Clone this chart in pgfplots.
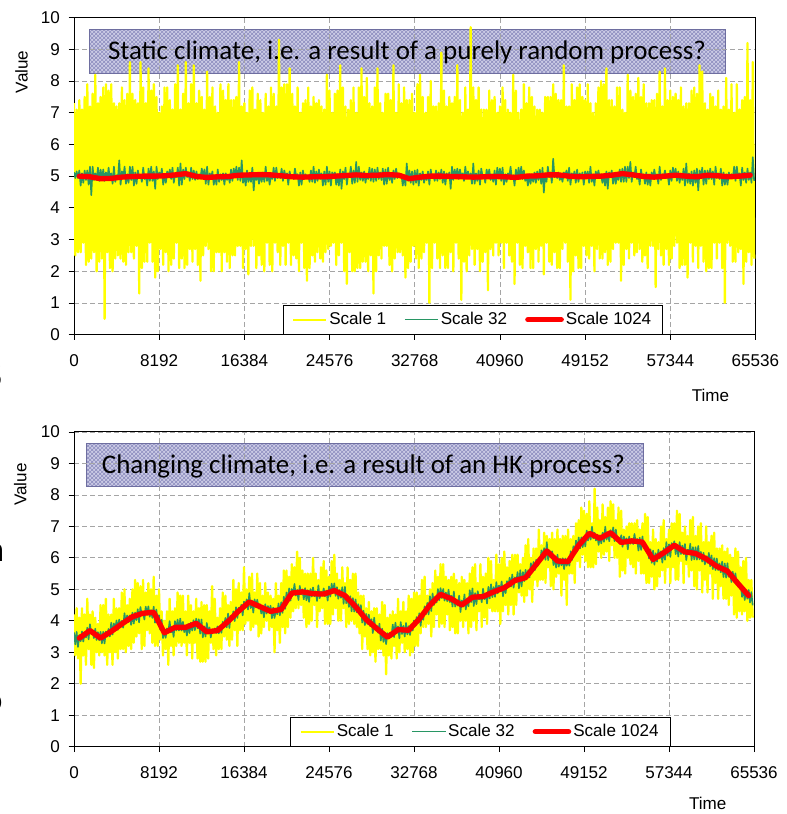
\documentclass[border=0pt]{standalone}
\usepackage{fontspec}
\setmainfont{Liberation Sans}
\newfontfamily\calibri{Carlito}
\usepackage{pgfplots}
\usepackage{pgfplotstable}
\pgfplotsset{compat=1.18}
\usetikzlibrary{patterns}

\definecolor{scaleone}{RGB}{255,255,0}
\definecolor{scalethirtytwo}{RGB}{40,150,100}
\definecolor{scalekilo}{RGB}{255,0,0}
\definecolor{boxfill}{RGB}{204,204,230}
\definecolor{boxhatch}{RGB}{140,140,190}
\definecolor{boxedge}{RGB}{110,110,160}
\definecolor{gridgray}{RGB}{165,165,165}

\newcommand\chartfont{\fontsize{12.8}{15}\selectfont}

% Series sampled every 128 time steps:
% static Scale 1, static Scale 32, changing Scale 1, changing Scale 32
\pgfplotstableread[header=false]{
7.3 5.12 4.2 3.63
2.5 4.94 2.9 3.25
7.1 5.15 4.4 3.65
2.6 4.94 2.8 3.17
7.4 5.18 4.1 3.55
2.6 4.70 2.0 3.35
7.1 5.09 4.4 3.66
2.9 4.79 2.9 3.34
7.5 5.18 4.2 3.62
2.2 4.88 2.6 3.47
7.9 5.18 4.7 3.78
2.3 4.73 3.1 3.41
7.2 5.30 4.2 3.89
2.4 4.40 2.6 3.58
7.6 5.30 4.3 3.68
2.6 4.88 2.5 3.45
8.2 5.09 4.1 3.75
2.0 4.88 3.0 3.39
7.3 5.27 3.9 3.64
2.3 4.85 2.9 3.38
7.5 5.21 4.5 3.65
2.4 4.91 3.0 3.28
7.8 5.21 4.5 3.65
0.5 4.85 2.9 3.28
7.9 5.12 4.7 3.66
2.6 4.88 2.6 3.50
7.7 5.27 4.2 3.74
2.1 4.88 3.0 3.50
7.9 5.09 4.2 3.94
2.0 4.76 2.6 3.56
7.3 5.30 4.7 3.92
2.4 4.82 3.0 3.70
7.2 5.03 4.4 4.01
2.5 4.91 2.8 3.71
7.3 5.50 4.4 4.04
2.4 4.73 3.1 3.82
7.8 5.15 4.9 4.00
2.3 4.94 3.1 3.78
7.4 5.30 5.0 4.24
2.2 4.76 3.0 3.91
7.6 5.06 4.5 4.17
2.6 4.79 3.2 3.96
8.6 5.30 4.7 4.17
2.6 4.88 3.1 3.87
7.6 5.30 5.0 4.26
2.4 4.70 3.3 3.91
7.4 5.12 5.3 4.26
2.8 4.76 3.5 4.02
7.3 5.18 5.2 4.37
1.3 4.94 3.6 3.95
8.6 5.03 5.1 4.44
2.1 4.82 3.1 4.18
7.8 5.27 5.3 4.29
2.3 4.91 3.2 4.04
7.3 5.03 4.9 4.45
2.3 4.70 3.7 4.20
8.4 5.24 5.2 4.46
2.9 4.85 3.6 4.13
7.7 5.30 5.0 4.34
2.3 4.85 3.3 4.09
7.9 5.15 5.4 4.45
1.8 4.60 3.2 3.94
7.5 5.30 4.8 4.36
2.0 4.91 3.2 3.95
7.0 5.12 5.0 4.18
2.7 4.97 3.4 3.71
7.2 5.24 4.3 4.03
2.2 4.73 2.9 3.45
7.8 5.06 4.0 3.70
2.6 4.79 3.1 3.46
7.8 5.15 4.3 3.76
2.0 4.97 2.6 3.63
7.4 5.21 4.7 3.99
2.2 4.91 3.2 3.63
7.1 5.27 4.3 3.80
2.4 4.79 2.9 3.49
7.9 5.09 4.4 3.99
2.9 4.97 3.2 3.69
8.5 5.27 4.9 4.04
2.1 4.70 3.3 3.69
7.1 5.40 4.8 4.07
2.4 4.73 3.2 3.69
7.6 5.21 4.8 3.97
2.1 4.91 3.3 3.64
8.6 5.27 4.3 3.84
2.2 4.97 2.9 3.53
7.3 5.12 4.8 3.90
2.7 4.85 3.3 3.61
7.9 5.27 4.5 3.94
2.3 4.91 2.8 3.69
8.5 5.18 4.3 4.02
2.7 4.88 3.3 3.70
7.3 5.15 4.7 4.07
2.2 4.91 2.8 3.76
7.7 5.06 4.4 4.05
1.7 4.94 2.7 3.59
7.5 5.24 4.6 4.04
2.5 4.97 2.7 3.47
7.1 5.21 4.5 3.82
2.8 4.76 2.7 3.50
8.3 5.30 4.5 3.93
2.7 4.73 2.8 3.61
7.5 5.09 4.3 3.79
2.0 4.94 3.3 3.47
7.8 5.15 5.1 3.72
2.0 4.73 3.1 3.63
7.2 5.03 4.7 3.76
2.6 4.73 2.9 3.61
7.0 5.21 4.1 3.82
2.6 4.82 3.1 3.60
7.9 5.06 4.4 3.81
2.0 4.88 3.1 3.62
7.7 5.09 4.9 3.97
2.6 4.73 3.5 3.82
7.4 5.09 4.8 4.09
2.3 4.88 3.4 3.79
7.9 5.03 4.5 4.23
2.1 4.79 3.2 3.77
7.4 5.21 4.6 4.16
2.5 4.85 3.4 4.05
7.4 5.24 5.3 4.30
2.5 4.97 3.7 3.99
7.5 5.30 5.0 4.43
2.8 4.88 3.2 4.09
8.6 5.27 5.2 4.41
2.8 4.85 3.7 4.27
7.2 5.50 4.9 4.51
2.1 4.79 3.7 4.17
7.3 5.03 5.7 4.61
2.7 4.70 3.9 4.41
7.0 5.18 5.0 4.68
1.9 4.82 4.0 4.36
7.7 5.03 5.4 4.88
2.8 4.82 3.7 4.40
7.8 5.27 5.5 4.64
2.8 4.55 3.8 4.26
7.1 5.09 4.9 4.68
2.1 4.88 3.9 4.43
7.6 5.06 5.5 4.67
2.5 4.76 3.5 4.39
7.4 5.09 5.2 4.53
2.2 4.82 3.6 4.23
7.0 5.12 4.8 4.46
2.0 4.82 3.8 4.11
7.6 5.30 5.2 4.53
2.9 4.85 4.0 4.23
7.2 5.03 4.9 4.47
2.2 4.73 3.7 4.27
7.8 5.06 4.8 4.48
2.0 4.91 3.8 4.08
7.6 5.27 4.7 4.42
2.9 4.85 3.0 4.09
7.2 5.27 5.2 4.38
2.6 4.94 3.7 4.21
9.3 5.06 4.8 4.55
2.2 4.94 3.3 4.17
7.8 5.24 5.2 4.59
2.8 4.85 3.8 4.25
7.9 5.18 5.6 4.77
2.2 4.97 3.6 4.38
7.9 5.09 5.6 4.90
2.9 4.73 3.8 4.61
8.4 5.15 5.4 5.03
2.2 4.94 4.1 4.64
7.6 5.03 5.8 5.01
2.5 4.91 4.3 4.84
7.2 5.24 5.7 5.17
2.4 4.97 4.4 4.80
7.8 5.06 6.2 4.98
2.0 4.70 4.4 4.66
7.0 5.12 6.0 5.11
2.9 4.73 4.5 4.84
7.3 5.18 5.6 5.00
2.1 4.91 4.1 4.68
7.4 5.06 5.5 5.04
1.7 4.94 3.8 4.65
7.8 5.03 5.5 4.97
2.1 4.82 3.9 4.60
7.2 5.18 5.5 5.01
2.5 4.82 4.0 4.77
7.5 5.30 6.0 5.06
2.3 4.79 4.5 4.78
7.3 5.15 5.5 4.94
2.6 4.85 3.8 4.63
7.4 5.21 5.3 5.13
2.4 4.91 4.3 4.72
7.2 5.09 5.7 4.93
2.3 4.70 4.4 4.80
7.1 5.15 5.9 5.03
2.6 4.73 3.9 4.78
8.2 5.30 5.6 4.96
2.7 4.82 3.9 4.64
7.7 5.15 5.4 5.09
2.8 4.70 3.9 4.77
7.0 5.12 5.9 5.18
2.9 4.97 4.2 4.90
7.6 5.12 6.1 5.19
2.2 4.73 4.4 4.79
7.7 5.06 5.5 5.07
2.5 4.70 4.0 4.70
8.5 5.21 5.3 4.98
2.9 4.60 4.0 4.73
7.8 5.15 5.7 5.07
2.0 4.91 4.4 4.54
7.2 5.27 5.2 5.08
1.6 4.73 3.8 4.56
7.1 5.06 5.7 4.81
2.6 4.97 3.9 4.44
7.4 5.30 5.3 4.78
2.0 4.76 4.0 4.30
7.8 5.18 5.5 4.72
2.0 4.79 3.9 4.29
7.0 5.45 5.5 4.68
2.1 4.82 3.8 4.27
7.8 5.30 4.9 4.53
2.1 4.88 3.6 4.22
8.4 5.12 4.8 4.50
2.3 4.85 3.1 3.94
7.5 5.15 4.8 4.32
2.3 4.79 3.5 3.86
8.1 5.06 4.4 4.22
2.0 4.91 3.1 3.90
7.3 5.27 4.6 4.20
2.5 4.85 2.9 3.83
7.2 5.24 4.3 4.05
1.3 4.82 3.0 3.61
7.8 5.21 4.4 4.10
2.0 4.85 2.7 3.71
8.4 5.27 4.4 3.85
2.5 4.91 3.1 3.62
7.3 5.12 4.2 3.91
2.4 4.88 3.1 3.37
7.0 5.24 4.6 3.75
2.8 4.73 2.9 3.33
7.6 5.21 4.5 3.63
2.8 4.76 2.3 3.26
7.6 5.27 4.1 3.61
2.2 4.88 2.9 3.46
7.4 5.06 4.2 3.62
2.0 4.79 2.8 3.49
8.5 5.18 4.3 3.88
2.4 4.91 3.2 3.48
7.0 5.24 4.2 3.94
2.6 4.94 2.8 3.61
7.9 5.09 4.7 3.82
2.6 4.97 3.0 3.44
7.3 5.06 4.3 3.96
2.5 4.70 3.3 3.58
7.8 5.03 4.6 3.84
1.8 4.70 3.0 3.50
7.4 5.40 4.3 3.93
2.1 4.85 3.1 3.57
7.4 5.18 4.8 3.83
2.3 4.79 2.9 3.55
7.6 5.15 4.7 3.89
2.8 4.73 3.0 3.69
7.0 5.18 4.9 4.01
2.4 4.79 3.2 3.85
7.9 5.21 4.9 4.12
2.1 4.70 3.2 3.94
8.2 5.09 4.8 4.24
2.4 4.88 3.6 3.84
7.5 5.15 5.3 4.27
2.6 4.79 3.8 4.03
7.0 5.03 5.4 4.46
2.9 4.88 3.8 4.21
7.5 5.15 4.8 4.57
1.0 4.73 3.9 4.20
8.0 5.21 5.0 4.78
2.1 4.94 3.5 4.31
7.2 5.03 5.2 4.87
2.9 4.85 3.8 4.50
7.2 5.18 5.6 4.77
2.4 4.85 4.2 4.58
7.3 5.12 5.4 5.01
2.1 4.91 3.8 4.65
8.9 5.21 5.8 5.04
2.5 4.79 3.9 4.72
7.7 5.15 5.8 5.01
2.1 4.73 3.8 4.64
7.2 5.09 5.4 4.90
2.1 4.94 4.2 4.62
7.5 5.12 5.3 4.99
2.6 4.60 3.7 4.59
7.3 5.30 5.4 4.80
2.0 4.88 3.8 4.45
7.5 5.21 5.5 4.93
2.9 4.97 3.6 4.45
8.5 5.24 5.3 4.65
2.4 4.91 3.6 4.48
7.4 5.21 5.2 4.80
1.1 4.97 4.0 4.28
7.0 5.09 5.4 4.65
2.3 4.85 3.8 4.45
7.8 5.30 5.3 4.84
2.0 4.94 4.0 4.36
7.1 5.15 5.2 4.71
2.5 4.94 3.6 4.46
9.7 5.09 5.5 4.97
2.7 4.76 3.8 4.59
7.8 5.40 5.7 5.03
2.2 4.76 4.0 4.47
7.4 5.09 5.8 4.88
2.7 4.85 3.7 4.53
7.8 5.18 5.2 4.94
2.0 4.73 4.3 4.68
7.1 5.24 5.8 4.82
2.3 4.97 3.8 4.59
7.1 5.03 5.4 5.02
2.6 4.79 4.1 4.69
7.1 5.21 5.5 4.86
1.4 4.97 3.9 4.55
7.7 5.21 6.0 5.08
2.7 4.88 4.4 4.71
7.4 5.06 5.9 5.16
2.5 4.82 4.3 4.75
7.5 5.18 5.3 5.07
2.9 4.73 4.3 4.76
7.0 5.27 6.1 5.23
2.5 4.94 4.3 4.87
7.2 5.24 5.8 5.12
2.9 4.85 3.9 4.95
7.8 5.27 6.0 5.25
2.1 4.73 4.3 4.78
7.4 5.06 6.2 5.13
2.9 4.82 4.5 4.88
7.1 5.09 5.7 5.26
2.5 4.97 4.2 5.09
7.0 5.30 5.9 5.37
2.3 4.91 4.5 5.09
8.2 5.03 6.1 5.47
1.6 4.70 4.2 5.05
7.7 5.21 6.1 5.38
2.9 4.91 4.5 5.24
7.0 5.27 6.1 5.55
2.2 4.91 4.9 5.03
7.1 5.30 5.8 5.61
2.1 4.91 4.8 5.09
7.9 5.18 6.0 5.55
2.8 4.85 4.6 5.26
7.3 5.03 6.4 5.62
2.6 4.70 4.8 5.37
7.8 5.06 6.6 5.61
2.1 4.76 5.0 5.38
7.5 5.06 6.0 5.83
2.1 4.82 4.6 5.53
7.2 5.12 6.3 5.87
2.7 4.79 5.3 5.61
7.1 5.15 6.3 5.94
2.3 4.88 5.1 5.74
7.1 5.21 6.9 5.98
2.8 4.76 5.3 5.87
7.0 5.27 6.4 6.24
1.9 4.48 5.3 6.01
7.5 5.09 6.8 6.31
2.9 4.82 5.2 5.94
7.5 5.30 6.7 6.50
2.3 4.97 5.7 5.93
7.5 5.12 6.6 6.24
2.2 4.79 5.1 6.02
7.9 5.55 6.8 6.21
2.6 4.97 5.0 5.77
7.6 5.06 6.6 6.03
2.1 4.94 5.4 5.69
7.4 5.12 6.9 6.10
2.1 4.88 5.5 5.72
7.4 5.03 6.6 5.97
2.7 4.82 4.8 5.76
8.5 5.12 6.7 5.99
2.9 4.97 5.3 5.64
7.2 5.18 6.7 5.98
2.3 4.85 4.5 5.75
7.2 5.27 6.9 5.93
1.1 4.73 5.5 5.75
7.9 5.09 6.6 6.21
2.0 4.97 5.5 5.93
7.4 5.15 6.7 6.37
2.5 4.79 5.2 6.16
7.8 5.21 7.1 6.55
2.1 4.82 5.9 6.21
7.9 5.09 7.2 6.65
2.1 4.94 5.7 6.30
7.5 5.12 7.6 6.65
2.8 4.73 6.1 6.34
7.4 5.15 7.5 6.64
2.5 4.94 5.9 6.36
7.9 5.15 7.4 6.87
2.4 4.79 5.7 6.55
7.3 5.30 7.8 6.83
2.8 4.82 5.7 6.58
7.0 5.06 7.1 6.99
2.0 4.70 5.7 6.62
7.3 5.15 8.2 6.80
2.7 4.94 5.8 6.55
7.8 5.18 7.6 6.74
2.4 4.94 6.2 6.41
8.0 5.06 7.2 6.72
2.4 4.79 6.0 6.46
7.9 5.03 7.7 6.80
2.6 4.70 6.1 6.51
8.4 5.15 7.3 6.99
2.2 4.60 6.2 6.58
7.4 5.12 7.6 6.81
2.3 4.97 5.9 6.53
7.4 5.18 7.8 6.88
2.7 4.76 6.4 6.66
7.2 5.09 7.7 6.97
2.9 4.76 6.0 6.53
7.8 5.03 7.2 6.90
2.9 4.88 6.0 6.53
7.8 5.21 7.6 6.65
1.7 4.82 5.4 6.45
7.1 5.24 7.5 6.72
2.2 4.82 5.6 6.35
7.0 5.30 6.9 6.68
2.7 4.82 5.5 6.46
8.2 5.30 7.0 6.62
2.4 4.94 6.0 6.27
7.7 5.45 7.1 6.68
2.9 4.82 5.8 6.45
7.5 5.12 7.1 6.59
2.5 4.97 5.7 6.44
7.6 5.30 7.1 6.76
2.6 4.91 5.5 6.47
8.1 5.06 7.2 6.60
2.7 4.73 5.9 6.23
7.5 5.21 6.9 6.64
2.3 4.94 5.5 6.25
7.9 5.06 7.1 6.68
2.5 4.76 5.5 6.33
7.3 5.12 7.4 6.44
2.1 4.73 5.2 6.21
7.3 5.06 7.3 6.28
2.8 4.70 5.2 5.98
7.4 5.12 6.5 6.27
2.8 4.91 5.4 5.84
7.4 5.21 6.9 6.23
1.5 4.94 5.0 5.78
7.6 5.06 6.6 6.15
2.7 4.76 5.1 5.88
8.3 5.30 6.5 6.26
2.5 4.88 5.4 5.98
7.2 5.06 7.0 6.21
2.2 4.97 5.6 5.85
8.4 5.18 7.2 6.31
2.7 4.94 5.2 5.94
7.4 5.06 6.6 6.50
2.2 4.73 5.7 6.07
7.7 5.18 6.9 6.43
2.4 4.85 5.2 6.03
7.5 5.27 7.1 6.47
2.8 4.97 5.7 6.32
7.6 5.24 7.1 6.53
2.9 4.85 5.3 6.12
7.4 5.15 7.5 6.43
2.1 4.79 5.3 6.04
7.8 5.09 7.4 6.50
2.2 4.88 5.9 6.12
7.2 5.24 6.8 6.39
2.2 4.70 5.2 6.12
7.3 5.40 7.0 6.44
1.8 4.79 5.8 5.93
7.3 5.09 6.7 6.26
2.9 4.76 5.4 6.12
7.7 5.15 7.2 6.45
2.3 4.70 5.6 5.93
7.8 5.18 7.3 6.34
2.8 4.79 5.1 5.95
7.6 5.24 6.7 6.34
2.1 4.55 5.0 5.94
8.5 5.18 7.0 6.38
2.8 4.94 5.6 5.95
8.3 5.27 7.1 6.19
2.3 4.73 4.9 5.88
7.3 5.18 6.5 6.16
2.0 4.76 5.3 5.79
7.1 5.18 7.0 6.05
2.1 4.91 4.9 5.84
7.6 5.24 6.5 6.16
2.1 4.91 5.5 5.73
7.5 5.15 6.7 6.08
2.9 4.73 4.7 5.64
7.2 5.30 6.8 5.99
2.4 4.94 5.2 5.61
7.7 5.09 6.3 5.98
2.9 4.91 4.7 5.61
7.1 5.24 6.3 5.82
2.1 4.70 5.1 5.54
7.2 5.12 6.4 5.88
1.0 4.73 4.7 5.39
8.1 5.06 6.2 5.82
2.9 4.73 4.7 5.37
7.1 5.12 6.3 5.83
2.8 4.97 4.5 5.40
7.9 5.06 6.1 5.56
2.3 4.94 4.8 5.23
7.0 5.30 6.0 5.56
2.3 4.85 4.2 5.23
7.9 5.30 6.3 5.51
2.6 4.94 4.1 5.15
7.1 5.09 6.2 5.28
2.7 4.70 4.3 5.08
7.4 5.27 5.7 5.17
1.6 4.88 4.2 4.76
7.5 5.12 5.9 5.04
2.3 4.79 4.3 4.66
9.2 5.24 6.0 4.97
2.6 4.88 4.0 4.70
7.4 5.12 5.3 4.98
2.2 4.79 4.1 4.58
8.6 5.60 5.3 4.91
2.4 4.85 4.1 4.49
}\scaledata

% Scale 1024 means, one per 1024 time steps: static, changing
\pgfplotstableread[header=false]{
5.00 3.45
4.98 3.69
4.92 3.45
4.93 3.66
4.97 3.90
4.99 4.13
5.00 4.24
5.00 4.27
5.01 3.62
5.04 3.79
5.08 3.79
4.99 3.92
4.96 3.65
4.98 3.69
4.99 3.98
5.03 4.31
5.04 4.60
5.05 4.45
5.04 4.30
5.01 4.36
4.98 4.88
4.97 4.92
4.98 4.86
4.98 4.85
5.00 4.96
5.02 4.80
5.04 4.45
5.02 4.04
5.03 3.75
5.05 3.48
5.03 3.72
4.92 3.70
4.97 4.06
5.00 4.50
5.00 4.84
4.99 4.70
4.98 4.50
4.97 4.75
4.98 4.77
4.99 4.92
4.98 5.05
4.96 5.28
5.00 5.37
5.01 5.79
5.04 6.22
5.04 5.90
5.00 5.88
4.98 6.40
4.99 6.78
5.00 6.62
5.03 6.80
5.08 6.49
5.04 6.54
4.99 6.50
4.97 5.95
5.00 6.16
5.03 6.40
5.00 6.19
4.98 6.14
5.03 5.97
5.01 5.73
4.98 5.58
5.00 5.18
5.03 4.80
}\kilodata

\pgfplotsset{
  climate/.style={
    scale only axis,
    xmin=0, xmax=65536, ymin=0, ymax=10,
    xtick={0,8192,16384,24576,32768,40960,49152,57344,65536},
    xticklabels={0,8192,16384,24576,32768,40960,49152,57344,65536},
    ytick={0,1,...,10},
    scaled x ticks=false,
    /pgf/number format/assume math mode=true,
    tick align=outside,
    tick pos=left,
    major tick length=4pt,
    tick style={black, line width=0.6pt},
    axis line style={black, line width=0.75pt},
    grid=major,
    major grid style={gridgray, dash pattern=on 3.5pt off 2.5pt, line width=0.6pt},
    ticklabel style={font=\chartfont},
    xticklabel style={yshift=-7.5pt},
    yticklabel style={xshift=-3pt},
    label style={font=\chartfont},
    xlabel={Time}, ylabel={Value},
    legend columns=3,
    legend image code/.code={\draw[#1] (0pt,0pt) -- (25pt,0pt);},
    legend style={anchor=south west, draw=black, line width=0.6pt, fill=white,
      font=\chartfont, inner xsep=7pt, inner ysep=4pt, nodes={inner sep=1.5pt},
      /tikz/every even column/.append style={column sep=12pt}},
  },
  scale one/.style={scaleone, line width=1.7pt, line join=round,
    legend image post style={line width=1.3pt}},
  scale thirtytwo/.style={scalethirtytwo, line width=1.2pt, line join=round,
    legend image post style={line width=0.9pt}},
  scale kilo/.style={scalekilo, line width=4pt, line join=round, line cap=round},
}

\begin{document}
\begin{tikzpicture}
% backing panels of the two captions
\fill[boxfill] (66.75pt,555pt) rectangle (543.75pt,588pt);
\fill[pattern=crosshatch, pattern color=boxhatch] (66.75pt,555pt) rectangle (543.75pt,588pt);
\draw[boxedge, line width=0.75pt] (66.75pt,555pt) rectangle (543.75pt,588pt);
\fill[boxfill] (64.5pt,245.25pt) rectangle (482.25pt,277.5pt);
\fill[pattern=crosshatch, pattern color=boxhatch] (64.5pt,245.25pt) rectangle (482.25pt,277.5pt);
\draw[boxedge, line width=0.75pt] (64.5pt,245.25pt) rectangle (482.25pt,277.5pt);

% static climate
\begin{axis}[climate, at={(55.5pt,359.5pt)}, anchor=south west,
  width=511.1pt, height=237.75pt,
  x label style={at={(axis description cs:0.934,-0.192)}, anchor=center},
  y label style={at={(axis description cs:-0.077,0.829)}, anchor=center},
  legend style={at={(axis description cs:0.306,0)}}]
\addplot[scale one] table[x expr=\coordindex*128, y index=0] {\scaledata};
\addlegendentry{Scale 1}
\addplot[scale thirtytwo] table[x expr=\coordindex*128, y index=1] {\scaledata};
\addlegendentry{Scale 32}
\addplot[scale kilo] table[x expr=512+\coordindex*1024, y index=0] {\kilodata};
\addlegendentry{Scale 1024}
\end{axis}

% changing climate
\begin{axis}[climate, at={(55.5pt,50.5pt)}, anchor=south west,
  width=510pt, height=236pt,
  x label style={at={(axis description cs:0.932,-0.181)}, anchor=center},
  y label style={at={(axis description cs:-0.079,0.833)}, anchor=center},
  legend style={at={(axis description cs:0.3176,0)}}]
\addplot[scale one] table[x expr=\coordindex*128, y index=2] {\scaledata};
\addlegendentry{Scale 1}
\addplot[scale thirtytwo] table[x expr=\coordindex*128, y index=3] {\scaledata};
\addlegendentry{Scale 32}
\addplot[scale kilo] table[x expr=512+\coordindex*1024, y index=1] {\kilodata};
\addlegendentry{Scale 1024}
\end{axis}

% captions
\node[anchor=base, inner sep=0pt, font=\calibri\fontsize{20.2}{24}\selectfont]
  at (305.25pt,565.5pt) {Static climate, i.e. a result of a purely random process?};
\node[anchor=base, inner sep=0pt, font=\calibri\fontsize{20.2}{24}\selectfont]
  at (272.6pt,255.5pt) {Changing climate, i.e. a result of an HK process?};

% slide text running off the left edge
\node[anchor=base east, inner sep=0pt, font=\calibri\fontsize{25}{28}\selectfont] at (2.25pt,319.5pt) {5};
\node[anchor=base east, inner sep=0pt, font=\calibri\fontsize{27}{30}\selectfont] at (3.4pt,189pt) {n};
\node[anchor=base east, inner sep=0pt, font=\calibri\fontsize{27}{30}\selectfont] at (2.25pt,76.5pt) {o};

\pgfresetboundingbox
\useasboundingbox (0pt,0pt) rectangle (590.25pt,610.5pt);
\end{tikzpicture}
\end{document}
